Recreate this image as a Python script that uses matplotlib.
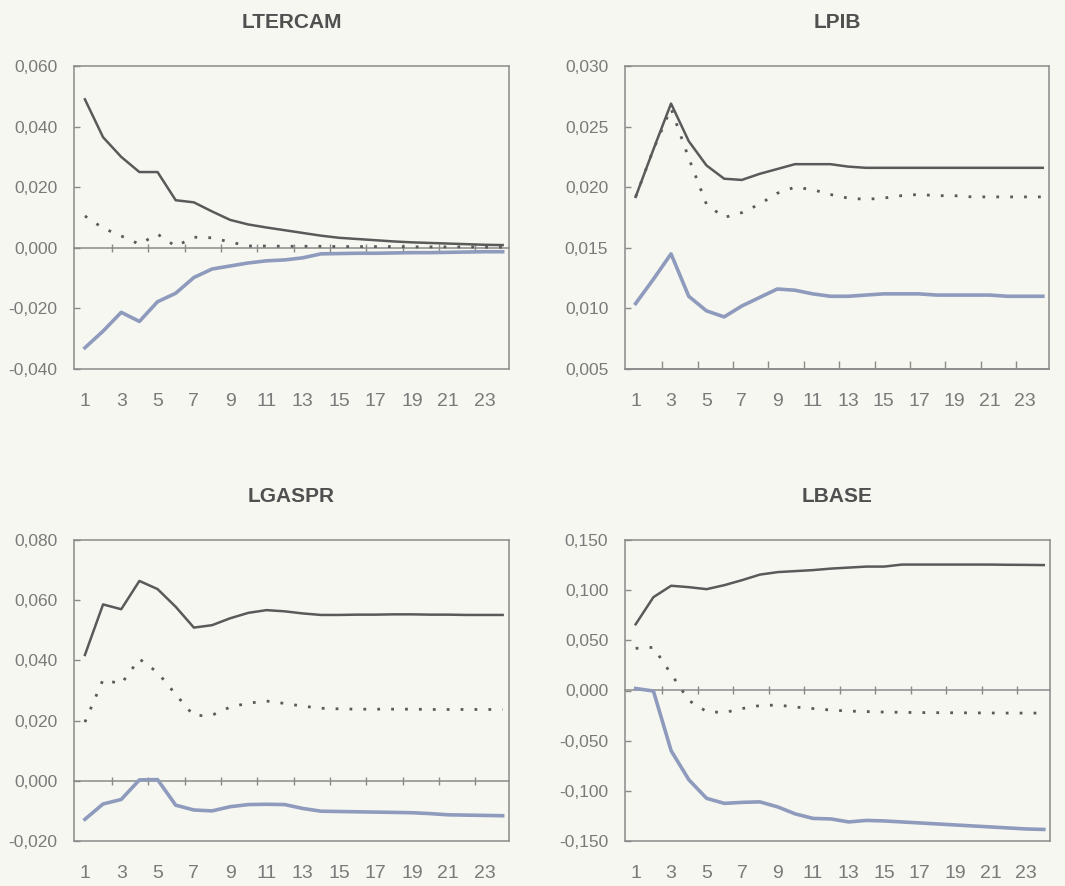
import matplotlib
matplotlib.use("Agg")
import matplotlib.pyplot as plt
from matplotlib.ticker import FuncFormatter, NullFormatter, FixedLocator

plt.rcParams['font.family'] = ['Liberation Sans', 'DejaVu Sans']

# Horizon (periods)
periods = list(range(1, 25))

# LTERCAM
ltercam_upper = [0.0490, 0.0365, 0.0300, 0.0250, 0.0250, 0.0157, 0.0150, 0.0120,
                 0.0092, 0.0077, 0.0067, 0.0058, 0.0049, 0.0040, 0.0033, 0.0029,
                 0.0025, 0.0021, 0.0018, 0.0016, 0.0014, 0.0012, 0.0010, 0.0009]
ltercam_mid = [0.0105, 0.0065, 0.0039, 0.0012, 0.0045, 0.0005, 0.0035, 0.0033,
               0.0019, 0.0006, 0.0006, 0.0005, 0.0005, 0.0005, 0.0004, 0.0004,
               0.0004, 0.0004, 0.0003, 0.0003, 0.0003, 0.0003, 0.0002, 0.0002]
ltercam_lower = [-0.0330, -0.0275, -0.0213, -0.0243, -0.0178, -0.0150, -0.0098, -0.0070,
                 -0.0060, -0.0050, -0.0043, -0.0040, -0.0033, -0.0020, -0.0019, -0.0018,
                 -0.0018, -0.0017, -0.0016, -0.0016, -0.0015, -0.0014, -0.0013, -0.0013]

# LPIB
lpib_upper = [0.0192, 0.0231, 0.0269, 0.0238, 0.0218, 0.0207, 0.0206, 0.0211,
              0.0215, 0.0219, 0.0219, 0.0219, 0.0217, 0.0216, 0.0216, 0.0216,
              0.0216, 0.0216, 0.0216, 0.0216, 0.0216, 0.0216, 0.0216, 0.0216]
lpib_mid = [0.0192, 0.0231, 0.0265, 0.0224, 0.0186, 0.0175, 0.0179, 0.0186,
            0.0195, 0.0200, 0.0198, 0.0194, 0.0191, 0.0190, 0.0191, 0.0193,
            0.0194, 0.0193, 0.0193, 0.0192, 0.0192, 0.0192, 0.0192, 0.0192]
lpib_lower = [0.0104, 0.0124, 0.0145, 0.0110, 0.0098, 0.0093, 0.0102, 0.0109,
              0.0116, 0.0115, 0.0112, 0.0110, 0.0110, 0.0111, 0.0112, 0.0112,
              0.0112, 0.0111, 0.0111, 0.0111, 0.0111, 0.0110, 0.0110, 0.0110]

# LGASPR
lgaspr_upper = [0.0418, 0.0586, 0.0570, 0.0664, 0.0637, 0.0578, 0.0509, 0.0517,
                0.0540, 0.0558, 0.0567, 0.0563, 0.0556, 0.0551, 0.0551, 0.0552,
                0.0552, 0.0553, 0.0553, 0.0552, 0.0552, 0.0551, 0.0551, 0.0551]
lgaspr_mid = [0.0195, 0.0336, 0.0322, 0.0405, 0.0360, 0.0287, 0.0216, 0.0218,
              0.0245, 0.0258, 0.0265, 0.0257, 0.0248, 0.0241, 0.0239, 0.0238,
              0.0238, 0.0238, 0.0238, 0.0237, 0.0237, 0.0237, 0.0237, 0.0237]
lgaspr_lower = [-0.0128, -0.0077, -0.0062, 0.0003, 0.0004, -0.0081, -0.0097, -0.0100,
                -0.0086, -0.0079, -0.0078, -0.0079, -0.0092, -0.0101, -0.0102, -0.0103,
                -0.0104, -0.0105, -0.0106, -0.0109, -0.0113, -0.0114, -0.0115, -0.0116]

# LBASE
lbase_upper = [0.0660, 0.0930, 0.1044, 0.1030, 0.1010, 0.1050, 0.1100, 0.1155,
               0.1180, 0.1190, 0.1200, 0.1215, 0.1225, 0.1235, 0.1235, 0.1255,
               0.1255, 0.1255, 0.1255, 0.1255, 0.1255, 0.1253, 0.1252, 0.1250]
lbase_mid = [0.0420, 0.0430, 0.0165, -0.0100, -0.0210, -0.0220, -0.0180, -0.0150,
             -0.0145, -0.0165, -0.0180, -0.0195, -0.0205, -0.0210, -0.0215, -0.0218,
             -0.0220, -0.0221, -0.0222, -0.0223, -0.0224, -0.0225, -0.0225, -0.0225]
lbase_lower = [0.0020, -0.0005, -0.0600, -0.0890, -0.1075, -0.1125, -0.1115, -0.1110,
               -0.1160, -0.1230, -0.1275, -0.1280, -0.1310, -0.1295, -0.1300, -0.1310,
               -0.1320, -0.1330, -0.1340, -0.1350, -0.1360, -0.1370, -0.1380, -0.1385]

panel_titles = ["LTERCAM", "LPIB", "LGASPR", "LBASE"]
panel_ylims = [(-0.04, 0.06), (0.005, 0.030), (-0.02, 0.08), (-0.15, 0.15)]
panel_ysteps = [0.02, 0.005, 0.02, 0.05]
x_labels = [str(p) for p in periods[::2]]

series = [
    (ltercam_upper, ltercam_mid, ltercam_lower),
    (lpib_upper, lpib_mid, lpib_lower),
    (lgaspr_upper, lgaspr_mid, lgaspr_lower),
    (lbase_upper, lbase_mid, lbase_lower),
]

W, H = 1065, 886
BG = '#f7f7f1'
FRAME = '#8a8a8a'
TXT = '#7a7a7a'
TITLE = '#505050'
DARK = '#5a5a5a'
BLUE = '#8e9bbd'

# panel boxes in pixels: left, right, top, bottom
boxes = [(74, 509, 66, 369), (625, 1049, 66, 369),
         (74, 509, 540, 841), (625, 1050, 540, 841)]

fig = plt.figure(figsize=(W / 100, H / 100), dpi=100, facecolor=BG)


def fmt(v, _pos):
    if abs(v) < 1e-12:
        v = 0.0
    return f"{v:.3f}".replace('.', ',')


for (l, r, t, b), title, (ymin, ymax), step, (up, mid, lo) in zip(
        boxes, panel_titles, panel_ylims, panel_ysteps, series):
    ax = fig.add_axes([l / W, 1 - b / H, (r - l) / W, (b - t) / H])
    ax.set_facecolor(BG)

    ax.plot(periods, up, color=DARK, lw=1.8, solid_joinstyle='round', zorder=3)
    ax.plot(periods, mid, color=DARK, lw=2.0, linestyle=(0, (1, 4)),
            dash_capstyle='butt', zorder=3)
    ax.plot(periods, lo, color=BLUE, lw=2.6, solid_joinstyle='round', zorder=3)

    ax.set_xlim(0.4, 24.35)
    ax.set_ylim(ymin, ymax)

    nt = int(round((ymax - ymin) / step))
    ax.yaxis.set_major_locator(FixedLocator([ymin + i * step for i in range(nt + 1)]))
    ax.yaxis.set_major_formatter(FuncFormatter(fmt))
    ax.set_xticks(periods[::2])
    ax.set_xticklabels(x_labels)

    ax.tick_params(axis='y', direction='in', length=4.5, width=1.0, color=FRAME,
                   labelsize=12.5, labelcolor=TXT, pad=12)
    ax.tick_params(axis='x', length=0, labelsize=14, labelcolor=TXT, pad=17)

    for sp in ax.spines.values():
        sp.set_color(FRAME)
        sp.set_linewidth(1.1)

    # horizontal axis line at zero (or at the lower limit) with tick marks between categories
    frac = (0 - ymin) / (ymax - ymin)
    inside = 0 < frac < 1
    sec = ax.secondary_xaxis(frac if inside else 0.0)
    sec.set_xticks([p + 0.5 for p in periods[1:23:2]])
    sec.xaxis.set_major_formatter(NullFormatter())
    sec.tick_params(axis='x', direction='inout' if inside else 'in',
                    length=6 if inside else 5.5, width=1.0, color=FRAME)
    for sp in sec.spines.values():
        sp.set_color(FRAME)
        sp.set_linewidth(1.1)

    ax.set_title(title, fontsize=15, fontweight='bold', color=TITLE, pad=27)

fig.savefig('out.png', dpi=100, facecolor=BG)
